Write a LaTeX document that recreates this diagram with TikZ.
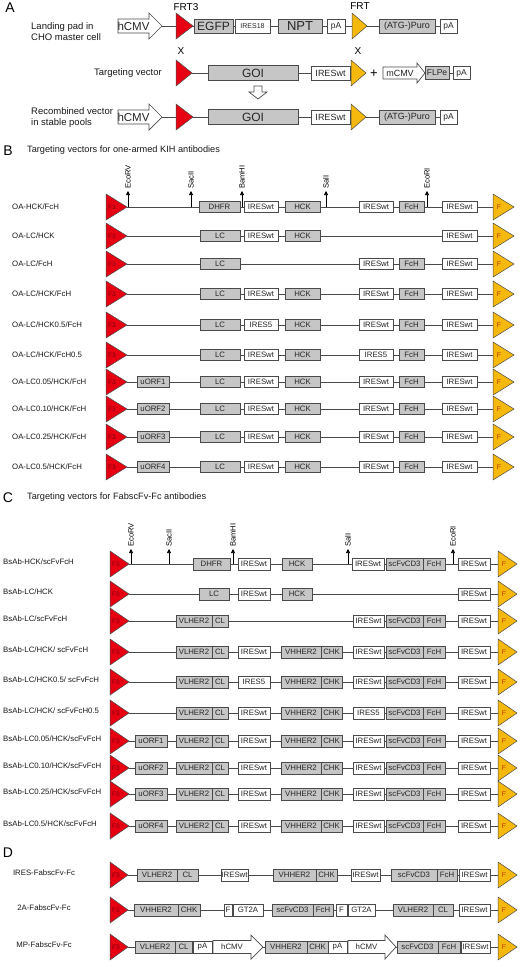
\documentclass[tikz,border=0pt]{standalone}
\usepackage{fontspec}
\setmainfont{Liberation Sans}
\usetikzlibrary{backgrounds,arrows.meta}
\definecolor{gfill}{HTML}{C6C6C6}
\definecolor{lc}{HTML}{4A4A4A}
\definecolor{redf}{HTML}{E60012}
\definecolor{yelf}{HTML}{F5B80C}
\definecolor{f3c}{HTML}{800010}
\definecolor{fc}{HTML}{B8400A}
\newcommand\myfs[1]{\fontsize{#1}{#1}\selectfont}
\def\bh{11pt}\def\rw{21}\def\yw{21}
\tikzset{
 bx/.style={draw=lc, line width=0.7pt, inner sep=0.5pt, outer sep=0pt, font=\myfs{7.8}, text=black!85},
 gbox/.style={bx, fill=gfill},
 wbox/.style={bx, fill=white},
 bb/.style={draw=lc, line width=0.8pt},
 rtri/.style={fill=redf, draw=lc, line width=0.5pt},
 ytri/.style={fill=yelf, draw=lc, line width=0.5pt},
 arrsh/.style={draw=lc, fill=white, line width=0.7pt},
 lbl/.style={font=\myfs{7.8}, anchor=west, inner sep=0, text=black!90},
 lblA/.style={font=\fontsize{9.5}{11}\selectfont, inner sep=0, text=black!90},
 site/.style={font=\myfs{7.6}, rotate=90, anchor=west, inner sep=0},
 sarr/.style={draw=black, line width=0.6pt, -{Triangle[length=4pt,width=4pt]}, shorten >=2pt},
 plet/.style={font=\myfs{14}, inner sep=0},
 ttl/.style={font=\myfs{9.2}, anchor=west, inner sep=0, text=black!90},
}
\newcommand\xGB[5]{\node[gbox,minimum width={#3pt-#2pt},minimum height=\bh] (#1) at ({(#2+#3)/2},#4) {#5};}
\newcommand\xWB[5]{\node[wbox,minimum width={#3pt-#2pt},minimum height=\bh] (#1) at ({(#2+#3)/2},#4) {#5};}
\newcommand\xRT[3]{\draw[rtri] (#2,#3-13) -- (#2+\rw,#3) -- (#2,#3+13) -- cycle;
 \coordinate (#1) at (#2+\rw,#3);
 \node[font=\myfs{6.5},text=f3c,inner sep=0] (#1t) at (#2+6,#3) {F3};}
\newcommand\xYT[3]{\draw[ytri] (#2,#3-13) -- (#2+\yw,#3) -- (#2,#3+13) -- cycle;
 \coordinate (#1) at (#2,#3);
 \node[font=\myfs{7},text=fc,inner sep=0] (#1t) at (#2+6,#3) {F};}
\newcommand\xLINE[2]{\begin{pgfonlayer}{background}\draw[bb] (#1) -- (#2);\end{pgfonlayer}}
\newcommand\xSITE[5]{\coordinate (#1) at (#2,#3);
 \node[site] (#1l) at (#2,#4-2) {#5};
 \draw[sarr] (#1) -- (#1l.west);}
\newcommand\xARR[9]{\draw[arrsh] (#2,#5-#6) -- (#3,#5-#6) -- (#3,#5-#7) -- (#4,#5) -- (#3,#5+#7) -- (#3,#5+#6) -- (#2,#5+#6) -- cycle;
 \node[font=\myfs{#9}, inner sep=0, text=black!85] (#1) at ({(#2+#3)/2},#5) {#8};
 \coordinate (#1t) at (#4,#5);}
% panel B rows
\newcommand\xBrow[3]{\node[lbl] (#1lab) at (12,#2) {#3};
 \xRT{#1r}{106}{#2}\xYT{#1y}{493}{#2}\xLINE{#1r}{#1y}}
\newcommand\xBstd[4]{\xGB{#1lc}{200}{240}{#2}{LC}
 \xWB{#1i1}{244}{278}{#2}{#3}
 \xGB{#1hck}{285}{320}{#2}{HCK}
 \xWB{#1i2}{359}{393}{#2}{#4}
 \xGB{#1fch}{399}{424}{#2}{FcH}
 \xWB{#1i3}{442}{477}{#2}{IRESwt}}
% panel C rows
\newcommand\xCrow[3]{\node[lbl] (#1lab) at (3,#2-2) {#3};
 \xRT{#1r}{110}{#2}\xYT{#1y}{498}{#2}\xLINE{#1r}{#1y}}
\newcommand\xCstd[4]{\xGB{#1vl}{176}{212}{#2}{VLHER2}\xGB{#1cl}{212}{228}{#2}{CL}
 \xWB{#1i1}{238}{270}{#2}{#3}
 \xGB{#1vh}{281}{321}{#2}{VHHER2}\xGB{#1chk}{321}{342}{#2}{CHK}
 \xWB{#1i2}{353}{384}{#2}{#4}
 \xGB{#1sc}{386}{423}{#2}{scFvCD3}\xGB{#1fc}{423}{445}{#2}{FcH}
 \xWB{#1i3}{458}{490}{#2}{IRESwt}}
\begin{document}
\begin{tikzpicture}[x=1pt,y=-1pt]
\useasboundingbox (0,0) rectangle (520,967);
% ================= A =================
\node[plet] (lA) at (10,8) {A};
\node[font=\myfs{10}, inner sep=0] (frt3) at (186,7) {FRT3};
\node[font=\myfs{10}, inner sep=0] (frt) at (360,6) {FRT};
\node[lblA, align=left, anchor=west] (ta1) at (31,32) {Landing pad in\\CHO master cell};
\def\bh{14pt}
\xARR{a1c}{118}{149}{162}{26}{7}{13}{hCMV}{11.5}
\draw[rtri] (176,13) -- (193,26) -- (176,39) -- cycle; \coordinate (a1r) at (193,26);
\xGB{a1egfp}{194}{233}{26}{\myfs{12}EGFP}
\xWB{a1ires}{235}{270}{26}{\myfs{7}IRES18}
\xGB{a1npt}{278}{322}{26}{\myfs{13}NPT}
\xWB{a1pa}{327}{345}{26}{\myfs{8.5}pA}
\draw[ytri] (352,13) -- (367,26) -- (352,39) -- cycle; \coordinate (a1y) at (352,26);
\xGB{a1puro}{379}{435}{26}{\myfs{9}(ATG-)Puro}
\xWB{a1pa2}{440}{457}{26}{\myfs{8.5}pA}
\xLINE{a1ct}{a1pa2}
% row 2
\node[lblA] (ta2) at (128,73) {Targeting vector};
\node[font=\myfs{10}, inner sep=0] (x1) at (181,51) {X};
\node[font=\myfs{10}, inner sep=0] (x2) at (358,51) {X};
\draw[rtri] (176,60) -- (192,73) -- (176,86) -- cycle; \coordinate (a2r) at (192,73);
\def\bh{15pt}
\xGB{a2goi}{208}{298}{73}{\myfs{12}GOI}
\def\bh{14pt}
\xWB{a2ires}{311}{350}{73}{\myfs{9}IRESwt}
\draw[ytri] (351,60) -- (366,73) -- (351,86) -- cycle; \coordinate (a2y) at (351,73);
\node[font=\myfs{13}, inner sep=0] (plus) at (374,74) {+};
\xARR{a2c}{383}{417}{425}{73}{6}{10}{mCMV}{9}
\def\bh{13pt}
\xGB{a2flp}{425}{449}{73}{\myfs{8.5}FLPe}
\xWB{a2pa}{453}{470}{73}{\myfs{8.5}pA}
\xLINE{a2r}{a2ires}
\xLINE{a2ct}{a2pa}
\draw[arrsh] (254,86) -- (262,86) -- (262,92) -- (267,92) -- (258,99) -- (249,92) -- (254,92) -- cycle;
% row 3
\node[lblA, align=left, anchor=west] (ta3) at (31,118) {Recombined vector\\in stable pools};
\def\bh{14pt}
\xARR{a3c}{118}{149}{162}{117}{7}{13}{hCMV}{11.5}
\draw[rtri] (176,104) -- (193,117) -- (176,130) -- cycle; \coordinate (a3r) at (193,117);
\def\bh{15pt}
\xGB{a3goi}{208}{298}{117}{\myfs{12}GOI}
\def\bh{14pt}
\xWB{a3ires}{311}{350}{117}{\myfs{9}IRESwt}
\draw[ytri] (351,104) -- (366,117) -- (351,130) -- cycle; \coordinate (a3y) at (351,117);
\xGB{a3puro}{379}{435}{117}{\myfs{9}(ATG-)Puro}
\xWB{a3pa}{440}{457}{117}{\myfs{8.5}pA}
\xLINE{a3ct}{a3pa}
% ================= B =================
\node[plet] (lB) at (8,151) {B};
\node[ttl] (tB) at (27,150) {Targeting vectors for one-armed KIH antibodies};
\def\bh{11pt}\def\rw{21}\def\yw{21}
\xBrow{b1}{207}{OA-HCK/FcH}
\xGB{b1dhfr}{199}{240}{207}{DHFR}
\xWB{b1i1}{244}{278}{207}{IRESwt}
\xGB{b1hck}{285}{320}{207}{HCK}
\xWB{b1i2}{359}{393}{207}{IRESwt}
\xGB{b1fch}{399}{424}{207}{FcH}
\xWB{b1i3}{442}{477}{207}{IRESwt}
\xSITE{b1s1}{128}{207}{191}{EcoRV}
\xSITE{b1s2}{191}{207}{191}{SacII}
\xSITE{b1s3}{242}{207}{191}{BamHI}
\xSITE{b1s4}{326}{207}{191}{SalI}
\xSITE{b1s5}{427}{207}{191}{EcoRI}
\xBrow{b2}{236}{OA-LC/HCK}
\xGB{b2lc}{200}{240}{236}{LC}
\xWB{b2i1}{244}{278}{236}{IRESwt}
\xGB{b2hck}{285}{320}{236}{HCK}
\xWB{b2i3}{442}{477}{236}{IRESwt}
\xBrow{b3}{264}{OA-LC/FcH}
\xGB{b3lc}{200}{240}{264}{LC}
\xWB{b3i2}{359}{393}{264}{IRESwt}
\xGB{b3fch}{399}{424}{264}{FcH}
\xWB{b3i3}{442}{477}{264}{IRESwt}
\xBrow{b4}{294}{OA-LC/HCK/FcH}
\xBstd{b4}{294}{IRESwt}{IRESwt}
\xBrow{b5}{325}{OA-LC/HCK0.5/FcH}
\xBstd{b5}{325}{IRES5}{IRESwt}
\xBrow{b6}{355}{OA-LC/HCK/FcH0.5}
\xBstd{b6}{355}{IRESwt}{IRES5}
\xBrow{b7}{382}{OA-LC0.05/HCK/FcH}
\xGB{b7u}{137}{169}{382}{uORF1}
\xBstd{b7}{382}{IRESwt}{IRESwt}
\xBrow{b8}{409}{OA-LC0.10/HCK/FcH}
\xGB{b8u}{137}{169}{409}{uORF2}
\xBstd{b8}{409}{IRESwt}{IRESwt}
\xBrow{b9}{437}{OA-LC0.25/HCK/FcH}
\xGB{b9u}{137}{169}{437}{uORF3}
\xBstd{b9}{437}{IRESwt}{IRESwt}
\xBrow{b10}{467}{OA-LC0.5/HCK/FcH}
\xGB{b10u}{137}{169}{467}{uORF4}
\xBstd{b10}{467}{IRESwt}{IRESwt}
% ================= C =================
\node[plet] (lC) at (8,498) {C};
\node[ttl] (tC) at (27,497) {Targeting vectors for FabscFv-Fc antibodies};
\def\bh{12pt}\def\rw{19}\def\yw{19}
\xCrow{c1}{564}{BsAb-HCK/scFvFcH}
\xGB{c1dhfr}{193}{230}{564}{DHFR}
\xWB{c1i1}{238}{270}{564}{IRESwt}
\xGB{c1hck}{282}{312}{564}{HCK}
\xWB{c1i2}{352}{384}{564}{IRESwt}
\xGB{c1sc}{386}{423}{564}{scFvCD3}\xGB{c1fc}{423}{445}{564}{FcH}
\xWB{c1i3}{458}{490}{564}{IRESwt}
\xSITE{c1s1}{131}{564}{549}{EcoRV}
\xSITE{c1s2}{169}{564}{549}{SacII}
\xSITE{c1s3}{233}{564}{549}{BamHI}
\xSITE{c1s4}{348}{564}{549}{SalI}
\xSITE{c1s5}{453}{564}{549}{EcoRI}
\xCrow{c2}{594}{BsAb-LC/HCK}
\xGB{c2lc}{199}{229}{594}{LC}
\xWB{c2i1}{238}{270}{594}{IRESwt}
\xGB{c2hck}{282}{312}{594}{HCK}
\xWB{c2i3}{458}{490}{594}{IRESwt}
\xCrow{c3}{621}{BsAb-LC/scFvFcH}
\xGB{c3vl}{176}{212}{621}{VLHER2}\xGB{c3cl}{212}{228}{621}{CL}
\xWB{c3i2}{353}{384}{621}{IRESwt}
\xGB{c3sc}{386}{423}{621}{scFvCD3}\xGB{c3fc}{423}{445}{621}{FcH}
\xWB{c3i3}{458}{490}{621}{IRESwt}
\xCrow{c4}{652}{BsAb-LC/HCK/ scFvFcH}
\xCstd{c4}{652}{IRESwt}{IRESwt}
\xCrow{c5}{682}{BsAb-LC/HCK0.5/ scFvFcH}
\xCstd{c5}{682}{IRES5}{IRESwt}
\xCrow{c6}{713}{BsAb-LC/HCK/ scFvFcH0.5}
\xCstd{c6}{713}{IRESwt}{IRES5}
\xCrow{c7}{741}{BsAb-LC0.05/HCK/scFvFcH}
\xGB{c7u}{135}{167}{741}{uORF1}
\xCstd{c7}{741}{IRESwt}{IRESwt}
\xCrow{c8}{768}{BsAb-LC0.10/HCK/scFvFcH}
\xGB{c8u}{135}{167}{768}{uORF2}
\xCstd{c8}{768}{IRESwt}{IRESwt}
\xCrow{c9}{794}{BsAb-LC0.25/HCK/scFvFcH}
\xGB{c9u}{135}{167}{794}{uORF3}
\xCstd{c9}{794}{IRESwt}{IRESwt}
\xCrow{c10}{826}{BsAb-LC0.5/HCK/scFvFcH}
\xGB{c10u}{135}{167}{826}{uORF4}
\xCstd{c10}{826}{IRESwt}{IRESwt}
% ================= D =================
\node[plet] (lD) at (8,853) {D};
\def\bh{12pt}\def\rw{18}\def\yw{19}
% row 1
\node[lbl, anchor=center] (d1lab) at (44,873) {IRES-FabscFv-Fc};
\xRT{d1r}{110}{875}\xYT{d1y}{498}{875}\xLINE{d1r}{d1y}
\xGB{d1vl}{137}{177}{875}{VLHER2}\xGB{d1cl}{177}{198}{875}{CL}
\xWB{d1i1}{221}{248}{875}{IRESwt}
\xGB{d1vh}{273}{316}{875}{VHHER2}\xGB{d1chk}{316}{337}{875}{CHK}
\xWB{d1i2}{351}{380}{875}{IRESwt}
\xGB{d1sc}{391}{437}{875}{scFvCD3}\xGB{d1fc}{437}{457}{875}{FcH}
\xWB{d1i3}{459}{490}{875}{IRESwt}
% row 2
\node[lbl, anchor=center] (d2lab) at (44,908) {2A-FabscFv-Fc};
\xRT{d2r}{110}{910}\xYT{d2y}{498}{910}\xLINE{d2r}{d2y}
\xGB{d2vh}{134}{178}{910}{VHHER2}\xGB{d2chk}{178}{200}{910}{CHK}
\xWB{d2f1}{224}{232}{910}{F}\xWB{d2gt1}{233}{263}{910}{GT2A}
\xGB{d2sc}{272}{313}{910}{scFvCD3}\xGB{d2fc}{313}{333}{910}{FcH}
\xWB{d2f2}{336}{347}{910}{F}\xWB{d2gt2}{348}{375}{910}{GT2A}
\xGB{d2vl}{393}{433}{910}{VLHER2}\xGB{d2cl}{433}{453}{910}{CL}
\xWB{d2i3}{459}{490}{910}{IRESwt}
% row 3
\node[lbl, anchor=center] (d3lab) at (44,945) {MP-FabscFv-Fc};
\xRT{d3r}{110}{947}\xYT{d3y}{498}{947}\xLINE{d3r}{d3y}
\xGB{d3vl}{135}{175}{947}{VLHER2}\xGB{d3cl}{175}{192}{947}{CL}
\xWB{d3pa1}{193}{212}{947}{pA}
\xARR{d3c1}{213}{251}{263}{947}{6.5}{12}{hCMV}{7.8}
\xGB{d3vh}{265}{307}{947}{VHHER2}\xGB{d3chk}{307}{328}{947}{CHK}
\xWB{d3pa2}{328}{347}{947}{pA}
\xARR{d3c2}{348}{385}{396}{947}{6.5}{12}{hCMV}{7.8}
\xGB{d3sc}{397}{438}{947}{scFvCD3}\xGB{d3fc}{438}{460}{947}{FcH}
\xWB{d3i3}{461}{490}{947}{IRESwt}
\end{tikzpicture}
\end{document}
